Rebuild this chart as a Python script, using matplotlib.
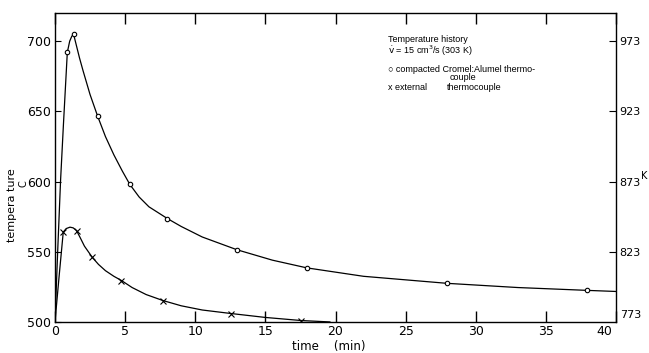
#!/usr/bin/env python

import numpy as np
from matplotlib import pyplot as plt

comp_t = [0.88, 1.33, 3.04, 5.34, 8.02, 12.98, 17.96, 27.95, 37.9]
comp_T = [692, 704.8, 646.6, 597.9, 573.6, 551.4, 538.5, 527.5, 522.5]
ext_t = [0.59, 1.54, 2.66, 4.74, 7.71, 12.55, 17.56]
ext_T = [564, 565, 546, 529.5, 515.2, 506, 501]

# traced curves drawn through the points
comp_curve_t = [0, 0.2, 0.4, 0.6, 0.88, 1.05, 1.2, 1.33, 1.5, 1.75, 2.0, 2.5,
                3.04, 3.6, 4.2, 4.8, 5.34, 6.0, 6.7, 8.02, 9.0, 10.5, 12.98,
                15.5, 17.96, 22.0, 27.95, 33.0, 37.9, 40.0]
comp_curve_T = [500, 552, 601, 640, 692, 700, 703.5, 704.8, 698, 688, 679, 662,
                646.6, 632, 619, 607.5, 597.9, 589, 582, 573.6, 568, 560.5, 551.4,
                544, 538.5, 532.5, 527.5, 524.5, 522.5, 521.7]
ext_curve_t = [0, 0.3, 0.59, 0.8, 1.07, 1.3, 1.54, 1.8, 2.1, 2.66, 3.1, 3.6,
               4.2, 4.74, 5.5, 6.5, 7.71, 9.0, 10.5, 12.55, 15.0, 17.56, 19.6]
ext_curve_T = [500, 533, 564, 566.5, 567.5, 567, 565, 560, 554, 546, 541, 536.5,
               532.5, 529.5, 524.5, 519.5, 515.2, 511.5, 508.5, 506, 503.2, 501, 500]

x_ticks = [0, 5, 10, 15, 20, 25, 30, 35, 40]
y_ticks = [500, 550, 600, 650, 700]
k_ticks = [823, 873, 923, 973]

num_font = ['Liberation Sans Narrow', 'DejaVu Sans']
txt_font = ['Liberation Sans', 'DejaVu Sans']


def main():
    fig = plt.figure(figsize=(6.49, 3.53), dpi=100)
    ax = fig.add_axes([0.0847, 0.088, 0.8645, 0.875])

    ax.plot(comp_curve_t, comp_curve_T, color='black', lw=0.9)
    ax.plot(ext_curve_t, ext_curve_T, color='black', lw=0.9)
    ax.plot(comp_t, comp_T, 'o', ms=3.2, mfc='white', mec='black', mew=0.8)
    ax.plot(ext_t, ext_T, 'x', ms=4, color='black', mew=0.8)

    ax.set_xlim(0, 40)
    ax.set_ylim(500, 720)
    for sp in ax.spines.values():
        sp.set_linewidth(1.0)

    ax.set_xticks(x_ticks)
    ax.set_xticklabels([str(v) if v != 40 else '' for v in x_ticks],
                       family=num_font, fontsize=9)
    ax.set_yticks(y_ticks)
    ax.set_yticklabels([str(v) for v in y_ticks], family=num_font, fontsize=9)
    ax.tick_params(axis='x', direction='in', length=8, width=1.0, pad=2,
                   top=True)
    ax.tick_params(axis='y', direction='in', length=4, width=0.8, pad=3)

    # right kelvin axis
    axk = ax.twinx()
    axk.set_ylim(500 + 273, 720 + 273)
    axk.set_yticks(k_ticks)
    axk.set_yticklabels([str(v) for v in k_ticks], family=num_font, fontsize=8)
    axk.tick_params(axis='y', direction='in', length=5, width=0.8, pad=2)
    for sp in axk.spines.values():
        sp.set_visible(False)
    fig.text(641 / 649, 1 - 176 / 353, 'K', ha='left', va='center',
             family=num_font, fontsize=7)

    ax.text(39.7, 497.5, '40', ha='right', va='top',
            family=num_font, fontsize=9)
    ax.text(40.3, 501.5, '773', ha='left', va='bottom',
            family=num_font, fontsize=8)

    fig.text(0.019, 0.419, 'tempera ture', rotation=90, ha='center',
             va='center', family=num_font, fontsize=8)
    fig.text(0.036, 0.479, 'C', rotation=90, ha='center', va='center',
             family=num_font, fontsize=7)
    fig.text(0.506, 0.017, 'time    (min)', ha='center', va='center',
             family=num_font, fontsize=8.5)

    x0 = 388 / 649
    fig.text(x0, 1 - 39 / 353, 'Temperature history', ha='left',
             va='center', family=txt_font, fontsize=6.5)
    fig.text(x0, 1 - 51 / 353, r'$\dot{\rm v}$ = 15 cm$^3$/s (303 K)',
             ha='left', va='center', family=txt_font, fontsize=6.5)
    fig.text(x0, 1 - 70 / 353, '\u25cb compacted Cromel:Alumel thermo-',
             ha='left', va='center', family=txt_font, fontsize=6.5)
    fig.text(450 / 649, 1 - 78 / 353, 'couple', ha='left', va='center',
             family=txt_font, fontsize=6.5)
    fig.text(x0, 1 - 88 / 353, 'x external', ha='left', va='center',
             family=txt_font, fontsize=6.5)
    fig.text(447 / 649, 1 - 88 / 353, 'thermocouple', ha='left',
             va='center', family=txt_font, fontsize=6.5)

    fig.savefig('out.png', dpi=100)
    plt.close(fig)


if __name__ == '__main__':
    main()
